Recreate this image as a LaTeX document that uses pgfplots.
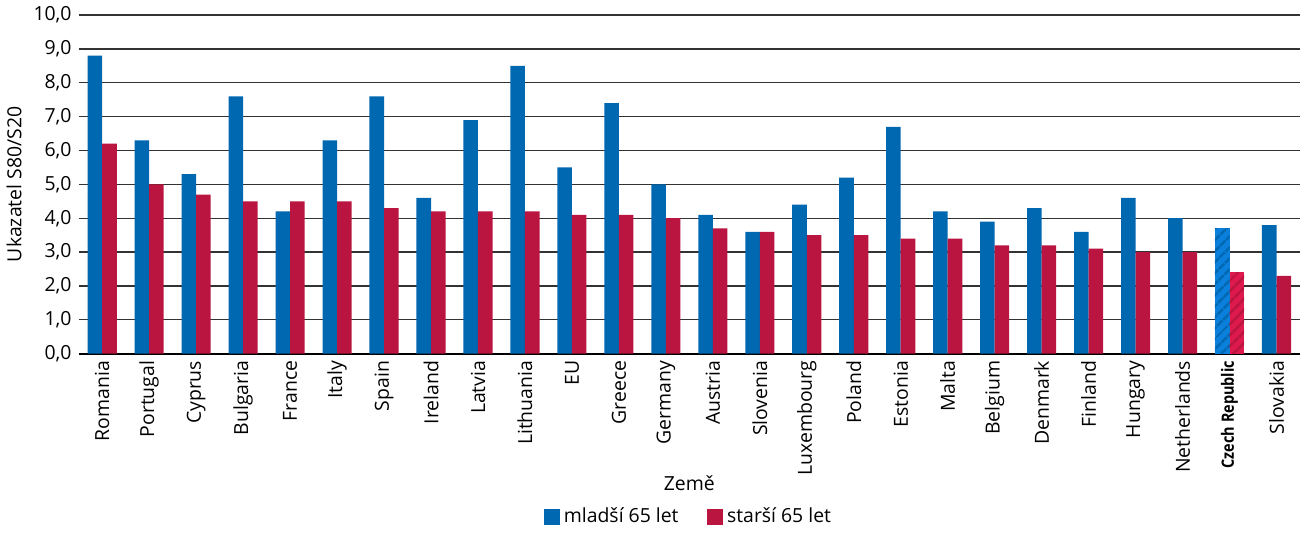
\documentclass[border=0pt]{standalone}
\usepackage{pgfplots}
\pgfplotsset{compat=1.18}
\usepackage{fontspec}
\setmainfont{Open Sans}
\usetikzlibrary{patterns.meta}
\definecolor{cblue}{HTML}{0067B1}
\definecolor{cred}{HTML}{BA1440}
\definecolor{lblue}{HTML}{0A80DC}
\definecolor{lred}{HTML}{DE1A4C}
\newcommand{\ff}{\fontsize{9.6}{11}\selectfont}
\begin{document}
\begin{tikzpicture}
\begin{axis}[
  scale only axis,
  width=604pt, height=167.5pt,
  ybar, bar width=0.31,
  xmin=-0.5, xmax=25.5,
  ymin=0, ymax=10,
  ytick={0,1,...,10},
  xtick={0,...,25},
  xticklabels={Romania,Portugal,Cyprus,Bulgaria,France,Italy,Spain,Ireland,Latvia,Lithuania,EU,Greece,Germany,Austria,Slovenia,Luxembourg,Poland,Estonia,Malta,Belgium,Denmark,Finland,Hungary,Netherlands,{\fontsize{8.4}{10}\selectfont\scalebox{0.85}[1]{\textbf{Czech Republic}}},Slovakia},
  x tick label style={rotate=90, anchor=east, font=\ff},
  y tick label style={font=\ff},
  /pgf/number format/.cd, fixed, fixed zerofill, precision=1, use comma, assume math mode=true,
  /pgfplots/.cd,
  major tick length=0pt,
  ymajorgrids,
  major grid style={black!80, line width=0.6pt},
  axis x line*=bottom, axis y line*=left,
  y axis line style={draw=none},
  x axis line style={black, line width=1pt},
  ylabel={Ukazatel S80/S20},
  ylabel style={font=\ff, yshift=-1pt},
  xlabel={Země},
  xlabel style={font=\ff, at={(axis description cs:0.5,0)}, anchor=center, yshift=-64pt},
  legend style={at={(0.5,0)}, yshift=-72pt, anchor=north, draw=none, legend columns=2, font=\ff, /tikz/every even column/.append style={column sep=12pt}},
  legend image code/.code={\fill[#1] (0pt,-4pt) rectangle (8pt,4pt);},
  clip=false,
]
\addplot[fill=cblue, draw=none, bar shift=-0.155] coordinates {
(0,8.8) (1,6.3) (2,5.3) (3,7.6) (4,4.2) (5,6.3) (6,7.6) (7,4.6) (8,6.9) (9,8.5) (10,5.5) (11,7.4) (12,5.0) (13,4.1) (14,3.6) (15,4.4) (16,5.2) (17,6.7) (18,4.2) (19,3.9) (20,4.3) (21,3.6) (22,4.6) (23,4.0) (25,3.8)};
\addlegendentry{mladší 65 let}
\addplot[fill=cred, draw=none, bar shift=0.155] coordinates {
(0,6.2) (1,5.0) (2,4.7) (3,4.5) (4,4.5) (5,4.5) (6,4.3) (7,4.2) (8,4.2) (9,4.2) (10,4.1) (11,4.1) (12,4.0) (13,3.7) (14,3.6) (15,3.5) (16,3.5) (17,3.4) (18,3.4) (19,3.2) (20,3.2) (21,3.1) (22,3.0) (23,3.0) (25,2.3)};
\addlegendentry{starší 65 let}
\addplot[fill=lblue, draw=none, bar shift=-0.155, forget plot] coordinates {(24,3.7)};
\addplot[pattern={Lines[angle=45, distance=4pt, line width=1.4pt]}, pattern color=cblue, draw=none, bar shift=-0.155, forget plot] coordinates {(24,3.7)};
\addplot[fill=lred, draw=none, bar shift=0.155, forget plot] coordinates {(24,2.4)};
\addplot[pattern={Lines[angle=45, distance=4pt, line width=1.4pt]}, pattern color=cred, draw=none, bar shift=0.155, forget plot] coordinates {(24,2.4)};
\end{axis}
\end{tikzpicture}
\end{document}
